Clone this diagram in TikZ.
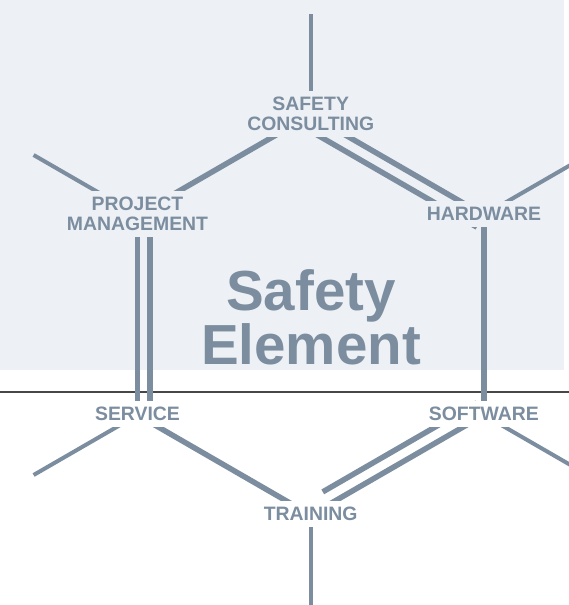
\documentclass[tikz,border=0pt]{standalone}
\usepackage{fontspec}
\setmainfont{Liberation Sans}
\usetikzlibrary{calc}
\definecolor{slate}{HTML}{7B8D9F}
\definecolor{panel}{HTML}{EDF1F5}
\definecolor{rulegray}{HTML}{474747}
\begin{document}
\begin{tikzpicture}[x=1pt,y=-1pt,
  ring/.style={draw=slate,line width=5.5pt},
  ray/.style={draw=slate,line width=4pt},
  servicetag/.style={font=\bfseries\fontsize{19.4}{20}\selectfont,text=slate,
    align=center,inner xsep=5pt,inner ysep=6.5pt,yshift=1pt},
  onpanel/.style={servicetag,fill=panel},
  onwhite/.style={servicetag,fill=white}]
\useasboundingbox (0,0) rectangle (569,605);
\clip (0,0) rectangle (569,605);

% shaded upper panel and the dividing rule
\fill[panel] (0,0) rectangle (564,370);
\draw[rulegray,line width=1.4pt] (0,392) -- (569,392);

% hexagon corners
\coordinate (vSC) at (310.7,115);
\coordinate (vPM) at (137.5,215);
\coordinate (vHW) at (483.9,215);
\coordinate (vSV) at (137.5,415);
\coordinate (vSW) at (483.9,415);
\coordinate (vTR) at (310.7,515);

% outer ends of the rays
\coordinate (oSC) at (310.7,14);
\coordinate (oPM) at (33.6,155);
\coordinate (oHW) at (587.8,155);
\coordinate (oSV) at (33.6,475);
\coordinate (oSW) at (587.8,475);
\coordinate (oTR) at (310.7,615);

% rays
\draw[ray] (vSC) -- (oSC);
\draw[ray] (vPM) -- (oPM);
\draw[ray] (vHW) -- (oHW);
\draw[ray] (vSV) -- (oSV);
\draw[ray] (vSW) -- (oSW);
\draw[ray] (vTR) -- (oTR);

% single sides
\draw[ring] (vSC) -- (vPM);
\draw[ring] (vHW) -- (vSW);
\draw[ring] (vSV) -- (vTR);

% double sides: outer line on the corners, inner line offset towards the centre
\draw[ring] (vSC) -- (vHW);
\draw[ring] ($(vSC)!14pt!-90:(vHW)$) -- ($(vHW)!14pt!90:(vSC)$);
\draw[ring] (vPM) -- (vSV);
\draw[ring] ($(vPM)!12.5pt!90:(vSV)$) -- ($(vSV)!12.5pt!-90:(vPM)$);
\draw[ring] (vSW) -- (vTR);
\draw[ring,shorten >=22pt] ($(vSW)!14pt!-90:(vTR)$) -- ($(vTR)!14pt!90:(vSW)$);

% corner labels
\node[onpanel] (sc) at (vSC) {SAFETY\\CONSULTING};
\node[onpanel] (pm) at (vPM) {PROJECT\\MANAGEMENT};
\node[onpanel] (hw) at (vHW) {HARDWARE};
\node[onwhite] (sv) at (vSV) {SERVICE};
\node[onwhite] (sw) at (vSW) {SOFTWARE};
\node[onwhite] (tr) at (vTR) {TRAINING};

% central title
\node[font=\bfseries\fontsize{56.5}{54}\selectfont,text=slate,align=center,
  inner sep=0pt,anchor=south] (title) at (311,365) {Safety\\Element};
\end{tikzpicture}
\end{document}
